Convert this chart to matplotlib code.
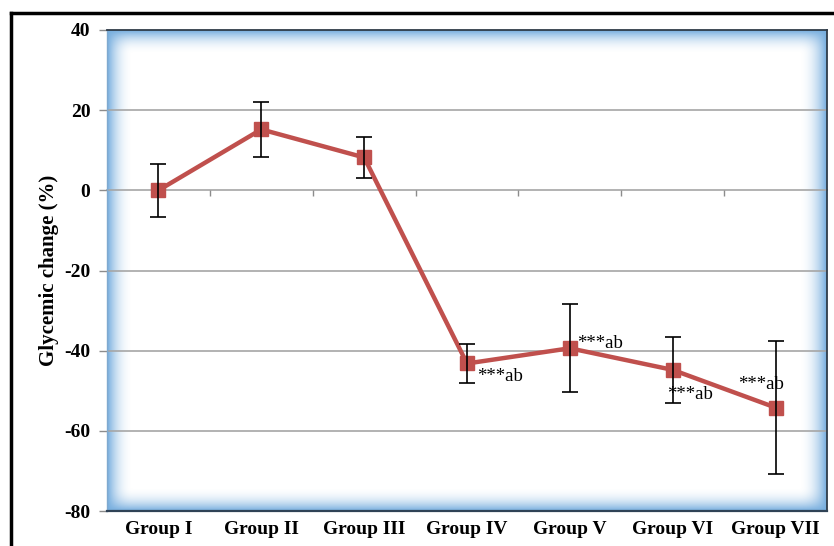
import numpy as np
import matplotlib
matplotlib.use("Agg")
import matplotlib.pyplot as plt
from matplotlib.lines import Line2D

plt.rcParams["axes.unicode_minus"] = False

# Data
groups = ["Group I", "Group II", "Group III", "Group IV", "Group V", "Group VI", "Group VII"]
glycemic_change = [0.0, 15.2, 8.2, -43.2, -39.4, -44.8, -54.2]
sem = [6.6, 6.8, 5.2, 4.9, 11.0, 8.2, 16.6]
significance = ["", "", "", "***ab", "***ab", "***ab", "***ab"]
# label offsets (pixels) from each marker
label_offsets = [None, None, None, (10, -13), (7, 5), (-6, -25), (-37, 23)]

serif = ["Liberation Serif", "DejaVu Serif"]

fig = plt.figure(figsize=(8.34, 5.46), dpi=100)
fig.patch.set_facecolor("white")
ax = fig.add_axes([107 / 834, 1 - 511 / 546, 720 / 834, 481 / 546])

x = np.arange(len(groups))

# soft blue glow along the plot-area edges
H, W = 481, 720
yy, xx = np.mgrid[0:H, 0:W]
def edge(d, w):
    return np.clip(1 - d / w, 0, 1) ** 2.2
a = 1 - (1 - edge(xx, 26)) * (1 - edge(W - 1 - xx, 28)) * (1 - edge(yy, 24)) * (1 - edge(H - 1 - yy, 24))
img = np.zeros((H, W, 4))
img[..., 0] = 0.33
img[..., 1] = 0.60
img[..., 2] = 0.84
img[..., 3] = a * 0.8
ax.imshow(img, extent=[0, 1, 0, 1], transform=ax.transAxes, aspect="auto",
          zorder=0, interpolation="bilinear")

ax.set_xlim(-0.5, len(groups) - 0.5)
ax.set_ylim(-80, 40)

# gridlines
for yv in [20, -20, -40, -60]:
    ax.axhline(yv, color="#a6a6a6", lw=1.2, zorder=1)

# horizontal axis at zero with boundary ticks
ax.spines["bottom"].set_position(("data", 0))
ax.spines["bottom"].set_color("#a6a6a6")
ax.spines["bottom"].set_linewidth(1.2)
ax.spines["bottom"].set_zorder(1)
ax.set_xticks(np.arange(0.5, len(groups) - 0.5, 1.0))
ax.tick_params(axis="x", direction="out", length=4, width=1, color="#8c8c8c", labelbottom=False)

# plot-area frame
for s in ["top", "right"]:
    ax.spines[s].set_color("#2f3b48")
    ax.spines[s].set_linewidth(1.3)
ax.spines["left"].set_color("#7fa9cf")
ax.spines["left"].set_linewidth(1.0)
ax.add_line(Line2D([0, 1], [0, 0], transform=ax.transAxes, color="#2f4256", lw=1.6, zorder=5,
                   clip_on=False))

# y axis
ax.set_yticks(np.arange(-80, 41, 20))
ax.tick_params(axis="y", direction="out", length=6, width=1, color="#8c8c8c", pad=6)
for lab in ax.get_yticklabels():
    lab.set_fontfamily(serif)
    lab.set_fontweight("bold")
    lab.set_fontsize(14)
ax.set_ylabel("Glycemic change (%)", fontfamily=serif, fontweight="bold", fontsize=15, labelpad=4)

# category labels
sec = ax.secondary_xaxis("bottom")
sec.set_xticks(x)
sec.set_xticklabels(groups, fontfamily=serif, fontweight="bold", fontsize=14)
sec.tick_params(length=0, pad=7)
sec.spines["bottom"].set_visible(False)

# series
ax.plot(x, glycemic_change, color="#c0504d", lw=3.2, marker="s", markersize=10,
        markerfacecolor="#c0504d", markeredgecolor="#c0504d", zorder=3)
ax.errorbar(x, glycemic_change, yerr=sem, fmt="none", ecolor="black", elinewidth=1.2,
            capsize=5.5, capthick=1.2, zorder=4)

for xi, yi, txt, off in zip(x, glycemic_change, significance, label_offsets):
    if txt:
        ax.annotate(txt, (xi, yi), xytext=off, textcoords="offset pixels",
                    ha="left", va="center", fontfamily=serif, fontsize=13.5, zorder=6)

# outer frame
fig.add_artist(Line2D([11 / 834, 1], [1 - 13 / 546, 1 - 13 / 546], color="black", lw=2.5,
                      transform=fig.transFigure))
fig.add_artist(Line2D([11 / 834, 11 / 834], [0, 1 - 13 / 546], color="black", lw=2.5,
                      transform=fig.transFigure))

fig.savefig("out.png", dpi=100)
